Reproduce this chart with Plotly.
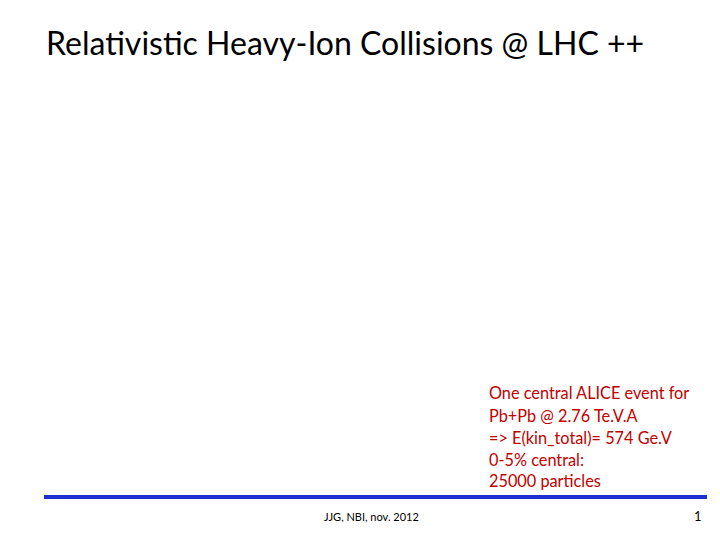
import plotly.graph_objects as go

W, H = 720, 540
title = "Relativistic Heavy-Ion Collisions @ LHC ++"
info_lines = ["One central ALICE event for", "Pb+Pb @ 2.76 Te.V.A",
              "=> E(kin_total)= 574 Ge.V", "0-5% central:", "25000 particles"]
info_y = [393, 415, 437, 459, 480]
footer = "JJG, NBI, nov. 2012"
page = "1"

OFF = 8
def px(x): return (x - OFF) / W
def py(y): return 1 - (y - OFF) / H

fig = go.Figure()
fig.update_layout(width=W, height=H, margin=dict(l=0, r=0, t=0, b=0),
                  paper_bgcolor="white", plot_bgcolor="white",
                  xaxis=dict(visible=False, range=[0, 1]),
                  yaxis=dict(visible=False, range=[0, 1]), showlegend=False)
ann = [dict(text=title, x=px(44), y=py(42), xanchor="left", yanchor="middle",
            font=dict(family="Lato", size=32, color="black"))]
for t, y in zip(info_lines, info_y):
    ann.append(dict(text=t, x=px(487), y=py(y), xanchor="left", yanchor="middle",
                    font=dict(family="Lato", size=16.3, color="#c00000")))
ann.append(dict(text=footer, x=px(322), y=py(517), xanchor="left", yanchor="middle",
                font=dict(family="Lato", size=11, color="black")))
ann.append(dict(text=page, x=px(704), y=py(516), xanchor="right", yanchor="middle",
                font=dict(family="Lato", size=13, color="black")))
for a in ann:
    a.update(xref="paper", yref="paper", showarrow=False)
fig.update_layout(annotations=ann)
fig.add_shape(type="line", xref="paper", yref="paper", x0=px(44), x1=px(707),
              y0=py(497), y1=py(497), line=dict(color="#1f2fd0", width=4))
fig.write_html("out.html")
